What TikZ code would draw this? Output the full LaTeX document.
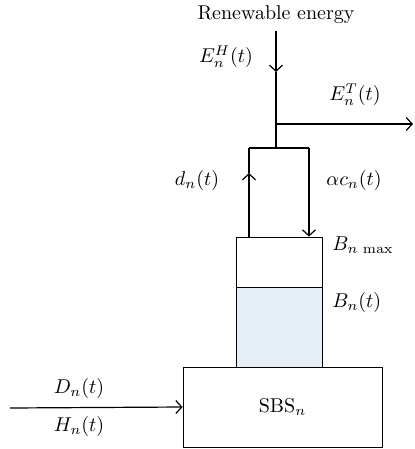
\documentclass[tikz,border=0pt]{standalone}
\usepackage{amsmath}
\usepackage{xcolor}
\definecolor{cellblue}{RGB}{230,238,246}
\usepackage{tikz}
\usetikzlibrary{arrows.meta, positioning, calc}
\tikzset{
  cell/.style={
    rectangle, draw=black, fill=white,
    minimum width=43pt, inner sep=0pt
  },
  station/.style={
    rectangle, draw=black, fill=white,
    minimum width=99.5pt, minimum height=40pt,
    text centered
  },
  flow/.style={semithick, -{Straight Barb[length=3pt,width=6.5pt]}},
  wire/.style={semithick},
  lbl/.style={inner sep=0pt},
}
\begin{document}
\begin{tikzpicture}[x=0.5pt, y=-0.5pt, node distance=0pt]
  \useasboundingbox (0,0) rectangle (415,449);

  \node (src) at (276,15) {Renewable energy};
  \coordinate (hin)   at (276,72);
  \coordinate (tap)   at (276,124);
  \coordinate (out)   at (413,124);
  \coordinate (split) at (276,148);
  \coordinate (dl)    at (249,148);
  \coordinate (cr)    at (309,148);
  \coordinate (dmid)  at (249,173);

  \node (bmax) [cell, minimum height=25pt] at (279,262) {};
  \node (bnow) [cell, fill=cellblue, minimum height=40pt, below=of bmax] {};
  \node (sbs)  [station] at (282.5,407) {SBS$_n$};
  \coordinate (feed) at (10,408);

  \draw [flow] (src.south) -- (hin);
  \draw [wire] (hin) -- (split);
  \draw [flow] (tap) -- (out);
  \draw [wire] (dl) -- (cr);
  \draw [flow] (bmax.north -| dl) -- (dmid);
  \draw [wire] (dmid) -- (dl);
  \draw [flow] (cr) -- (bmax.north -| cr);
  \draw [flow] (feed) -- node[pos=0.4, above=1pt]{$D_n(t)$}
                         node[pos=0.4, below=1pt]{$H_n(t)$} (sbs.west);

  \node (eh)   [lbl] at (226,57)  {$E_n^H(t)$};
  \node (et)   [lbl] at (355,95)  {$E_n^T(t)$};
  \node (dn)   [lbl] at (197,180) {$d_n(t)$};
  \node (cn)   [lbl] at (354,180) {$\alpha c_n(t)$};
  \node (bmx)  [lbl, anchor=west] at (332,245) {$B_{n\,\max}$};
  \node (bn)   [lbl, anchor=west] at (332,302) {$B_n(t)$};
\end{tikzpicture}
\end{document}
